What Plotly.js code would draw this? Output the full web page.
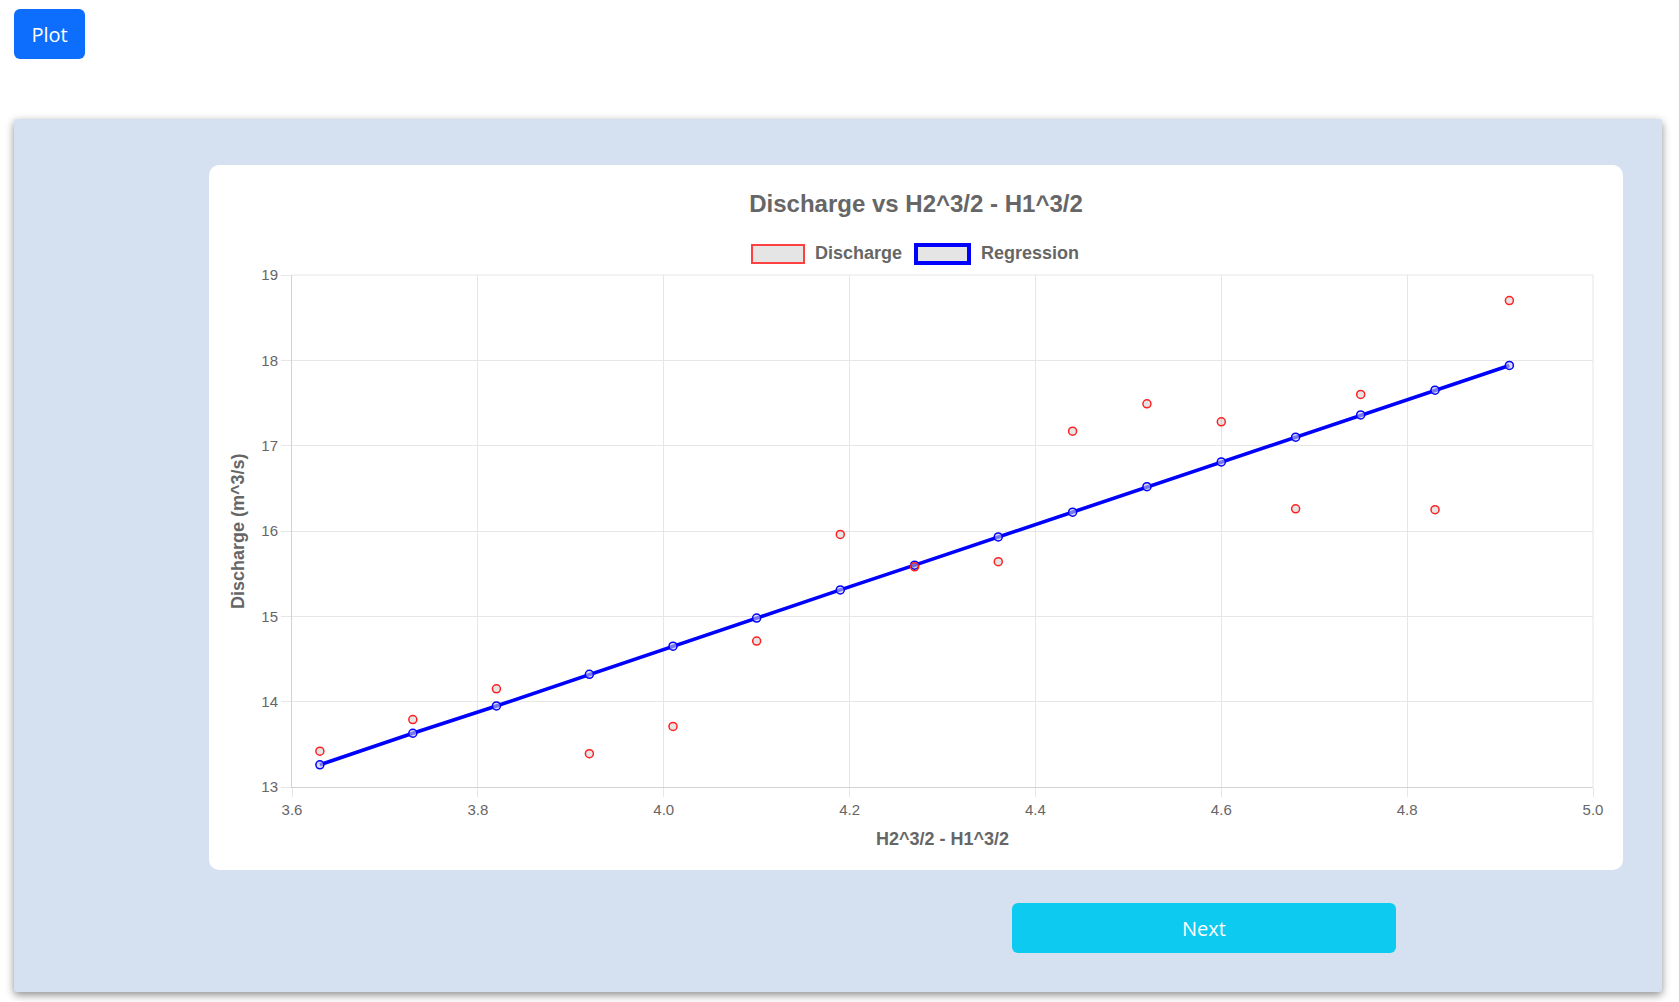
<!DOCTYPE html>
<html><head><meta charset="utf-8">
<script src="https://cdn.plot.ly/plotly-3.0.1.min.js"></script>
<style>
html,body{margin:0;padding:0;background:#fff;width:1679px;height:1002px;overflow:hidden;font-family:"Open Sans","Noto Sans",sans-serif;}
.btn{position:absolute;color:#fff;border-radius:6px;display:flex;align-items:center;justify-content:center;font-size:20px;}
#plotBtn{left:14px;top:9px;width:71px;height:50px;background:#0d6efd;}
#panel{position:absolute;left:14px;top:119px;width:1648px;height:873px;background:#d5e0f1;box-shadow:0 3px 9px rgba(0,0,0,0.45);border-radius:3px;}
#card{position:absolute;left:209px;top:165px;width:1414px;height:705px;background:#fff;border-radius:10px;}
#chart{position:absolute;left:209px;top:165px;width:1414px;height:705px;}
#nextBtn{left:1012px;top:903px;width:384px;height:50px;background:#0dcaf0;}
</style></head>
<body>
<div id="plotBtn" class="btn">Plot</div>
<div id="panel"></div>
<div id="card"></div>
<div id="chart"></div>
<div id="nextBtn" class="btn">Next</div>
<script>
const chartTitle = 'Discharge vs H2^3/2 - H1^3/2';
const xAxisTitle = 'H2^3/2 - H1^3/2';
const yAxisTitle = 'Discharge (m^3/s)';
const seriesNames = ['Discharge', 'Regression'];
const xValues = [3.63,3.73,3.82,3.92,4.01,4.10,4.19,4.27,4.36,4.44,4.52,4.60,4.68,4.75,4.83,4.91];
const dischargeValues = [13.42,13.79,14.15,13.39,13.71,14.71,15.96,15.58,15.64,17.17,17.49,17.28,16.26,17.60,16.25,18.70];
const regressionValues = [13.26,13.63,13.95,14.32,14.65,14.98,15.31,15.60,15.93,16.22,16.52,16.81,17.10,17.36,17.65,17.94];

const W = 1414, H = 705, CL = 209, CT = 165;
const M = {l:83, r:30, t:110, b:83, pad:0};
const PW = W - M.l - M.r, PH = H - M.t - M.b;
const fx = px => (px - CL - M.l) / PW;
const fy = py => 1 - (py - CT - M.t) / PH;

const FONT = 'Liberation Sans, Arial, Helvetica, sans-serif';
const GRID = '#e6e6e6';

const traces = [
  {
    x: xValues, y: regressionValues, name: seriesNames[1], type: 'scatter', mode: 'lines+markers',
    line: {color: '#0000ff', width: 3.6},
    marker: {symbol: 'circle', size: 8, color: 'rgba(200,200,230,0.6)', line: {color: '#0000ff', width: 1.5}},
    showlegend: false, cliponaxis: false
  },
  {
    x: xValues, y: dischargeValues, name: seriesNames[0], type: 'scatter', mode: 'markers',
    marker: {symbol: 'circle', size: 8, color: 'rgba(0,0,0,0.1)', line: {color: '#ff2020', width: 1.5}},
    showlegend: false, cliponaxis: false
  }
];

const legendFont = {family: FONT, size: 18, color: '#666'};
const layout = {
  width: W, height: H, margin: M,
  paper_bgcolor: 'rgba(0,0,0,0)', plot_bgcolor: 'rgba(0,0,0,0)',
  showlegend: false,
  title: {text: '<b>' + chartTitle + '</b>', font: {family: FONT, size: 24, color: '#666'},
          xref: 'container', x: 0.5, xanchor: 'center', yref: 'container', y: 1 - 38.5 / H, yanchor: 'middle'},
  xaxis: {
    range: [3.6, 5.0], tick0: 3.6, dtick: 0.2, tickformat: '.1f',
    showgrid: true, gridcolor: GRID, gridwidth: 1, zeroline: false,
    showline: true, linecolor: '#d2d2d2', linewidth: 1,
    ticks: 'outside', ticklen: 9, tickcolor: GRID, tickwidth: 1,
    tickfont: {family: FONT, size: 15, color: '#666'}
  },
  yaxis: {
    range: [13, 19], tick0: 13, dtick: 1,
    showgrid: true, gridcolor: GRID, gridwidth: 1, zeroline: false,
    showline: true, linecolor: '#d2d2d2', linewidth: 1,
    ticks: 'outside', ticklen: 10, tickcolor: GRID, tickwidth: 1,
    tickfont: {family: FONT, size: 15, color: '#666'}
  },
  shapes: [
    {type: 'line', xref: 'paper', yref: 'paper', x0: 0, x1: 1, y0: 1, y1: 1, line: {color: GRID, width: 1}},
    {type: 'line', xref: 'paper', yref: 'paper', x0: 1, x1: 1, y0: 0, y1: 1, line: {color: GRID, width: 1}},
    {type: 'rect', xref: 'paper', yref: 'paper', x0: fx(752), x1: fx(804), y0: fy(263), y1: fy(245),
     fillcolor: '#e5e5e5', line: {color: '#ff4040', width: 2}},
    {type: 'rect', xref: 'paper', yref: 'paper', x0: fx(916), x1: fx(969), y0: fy(263), y1: fy(245),
     fillcolor: '#e5e5e5', line: {color: '#0000ff', width: 4}}
  ],
  annotations: [
    {text: '<b>' + seriesNames[0] + '</b>', xref: 'paper', yref: 'paper', x: fx(813), y: fy(252.5),
     xanchor: 'left', yanchor: 'middle', showarrow: false, font: legendFont},
    {text: '<b>' + seriesNames[1] + '</b>', xref: 'paper', yref: 'paper', x: fx(979), y: fy(252.5),
     xanchor: 'left', yanchor: 'middle', showarrow: false, font: legendFont},
    {text: '<b>' + xAxisTitle + '</b>', xref: 'paper', yref: 'paper', x: 0.5, y: 0, yshift: -52,
     xanchor: 'center', yanchor: 'middle', showarrow: false, font: legendFont},
    {text: '<b>' + yAxisTitle + '</b>', xref: 'paper', yref: 'paper', x: 0, xshift: -54, y: 0.5, textangle: -90,
     xanchor: 'center', yanchor: 'middle', showarrow: false, font: legendFont}
  ]
};

Plotly.newPlot('chart', traces, layout, {displayModeBar: false, staticPlot: true});
</script>
</body></html>
